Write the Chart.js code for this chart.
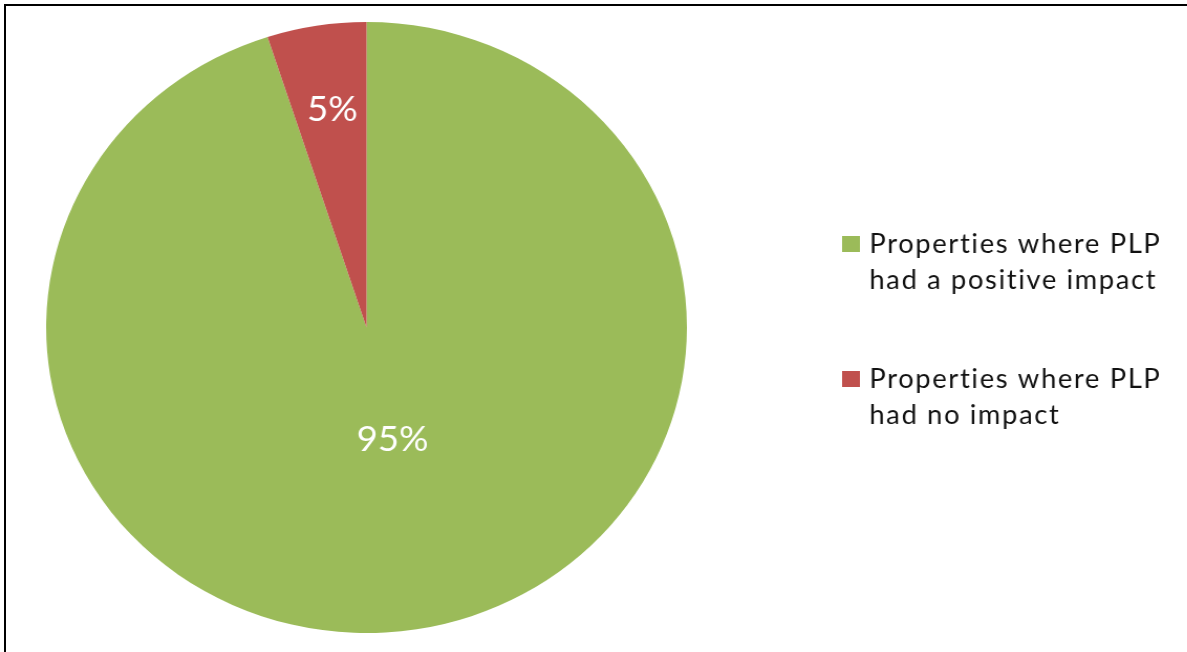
<!DOCTYPE html>
<html>
<head>
<meta charset="utf-8">
<script src="https://cdn.jsdelivr.net/npm/chart.js@4/dist/chart.umd.min.js"></script>
<style>
  html, body { margin: 0; padding: 0; background: #fff; overflow: hidden; width: 1187px; height: 652px; }
  #frame { position: absolute; left: 4px; top: 4px; width: 1300px; height: 800px; border: 2px solid #000; box-sizing: border-box; }
  #wrap { position: absolute; left: 0; top: 0; width: 1132px; height: 652px; transform: scaleX(1.0487); transform-origin: 0 0; }
</style>
</head>
<body>
<div id="frame"></div>
<div id="wrap"><canvas id="pie" width="1132" height="652"></canvas></div>
<script>
// Survey categories (legend text, already split into lines) and their shares in percent
const categories = [
  ['Properties where PLP', 'had a positive impact'],
  ['Properties where PLP', 'had no impact']
];
const shares = [95, 5];
const sliceColors = ['#9BBB59', '#C0504D'];

// Percent labels inside each slice, placed near the slice's middle angle
const sliceLabels = {
  id: 'sliceLabels',
  afterDatasetsDraw(chart, args, opts) {
    const ctx = chart.ctx;
    const meta = chart.getDatasetMeta(0);
    ctx.save();
    ctx.font = opts.font;
    ctx.fillStyle = opts.color;
    ctx.textAlign = 'center';
    ctx.textBaseline = 'middle';
    meta.data.forEach((arc, i) => {
      const p = arc.getProps(['x', 'y', 'startAngle', 'endAngle', 'outerRadius']);
      const mid = (p.startAngle + p.endAngle) / 2 + opts.angleShift[i] * Math.PI / 180;
      const r = p.outerRadius * opts.radius[i];
      const v = chart.data.datasets[0].data[i];
      ctx.fillText(v + '%', p.x + Math.cos(mid) * r, p.y + Math.sin(mid) * r);
    });
    ctx.restore();
  }
};

// Legend on the right with wrapped, two-line entries
const sideLegend = {
  id: 'sideLegend',
  afterDraw(chart, args, opts) {
    const ctx = chart.ctx;
    const ds = chart.data.datasets[0];
    ctx.save();
    ctx.font = opts.font;
    if ('letterSpacing' in ctx) ctx.letterSpacing = opts.letterSpacing;
    ctx.textAlign = 'left';
    ctx.textBaseline = 'alphabetic';
    chart.data.labels.forEach((lines, i) => {
      const base = opts.top + i * opts.itemGap;
      ctx.fillStyle = ds.backgroundColor[i];
      ctx.fillRect(opts.x, base - opts.boxHeight - 1, opts.boxWidth, opts.boxHeight);
      ctx.fillStyle = opts.color;
      lines.forEach((line, j) => {
        ctx.fillText(line, opts.x + opts.boxWidth + opts.gap, base + j * opts.lineHeight);
      });
    });
    ctx.restore();
  }
};

new Chart(document.getElementById('pie'), {
  type: 'pie',
  data: {
    labels: categories,
    datasets: [{
      data: shares,
      backgroundColor: sliceColors,
      borderWidth: 0,
      hoverOffset: 0
    }]
  },
  options: {
    responsive: false,
    devicePixelRatio: 1,
    animation: false,
    events: [],
    layout: { padding: { left: 44, right: 477, top: 22, bottom: 19 } },
    plugins: {
      legend: { display: false },
      tooltip: { enabled: false },
      sliceLabels: {
        font: '35px Lato',
        color: '#ffffff',
        radius: [0.375, 0.72],
        angleShift: [-3.5, 0.5]
      },
      sideLegend: {
        font: '26px Lato',
        letterSpacing: '1.6px',
        color: '#111111',
        x: 803,
        top: 253,
        itemGap: 135,
        lineHeight: 36,
        boxWidth: 17,
        boxHeight: 16,
        gap: 9
      }
    }
  },
  plugins: [sliceLabels, sideLegend]
});
</script>
</body>
</html>
